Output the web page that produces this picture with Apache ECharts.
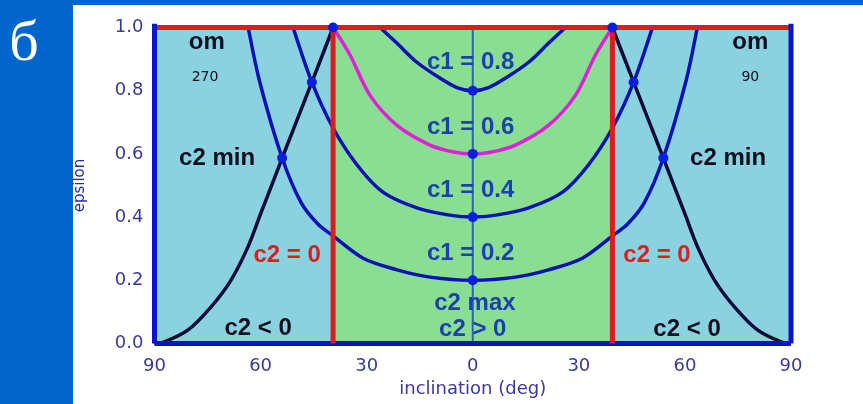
<!DOCTYPE html>
<html>
<head>
<meta charset="utf-8">
<script src="https://cdn.jsdelivr.net/npm/echarts@6/dist/echarts.min.js"></script>
<style>
  html, body { margin: 0; padding: 0; background: #ffffff; }
  #chart { width: 863px; height: 404px; }
</style>
</head>
<body>
<div id="chart"></div>
<script>
// Axis ticks
const xTicks = [-90, -60, -30, 0, 30, 60, 90];
const yTicks = [0, 0.2, 0.4, 0.6, 0.8, 1.0];

// Boundary of the c2 > 0 zone (inclination, deg)
const c2ZeroIncl = [-39.5, 39.5];

// Constant-c1 curves: inclination (deg) and epsilon
const c1_08_incl = [-26.2, -21.4, -15.8, -9.3, -4.5, 0, 4.5, 9.3, 15.8, 21.4, 26.2];
const c1_08_eps  = [1.0, 0.95, 0.89, 0.84, 0.81, 0.80, 0.81, 0.84, 0.89, 0.95, 1.0];

const c1_06_incl = [-39.5, -34.7, -29.1, -21.4, -12.1, -5, 0, 5, 12.1, 21.4, 29.1, 34.7, 39.5];
const c1_06_eps  = [1.0, 0.913, 0.786, 0.69, 0.628, 0.605, 0.60, 0.605, 0.628, 0.69, 0.786, 0.913, 1.0];

const c1_04_incl = [-50.8, -45.5, -39.5, -32.7, -25.4, -15.8, -7, 0, 7, 15.8, 25.4, 32.7, 39.5, 45.5, 50.8];
const c1_04_eps  = [1.0, 0.827, 0.682, 0.565, 0.479, 0.429, 0.407, 0.40, 0.407, 0.429, 0.479, 0.565, 0.682, 0.827, 1.0];

const c1_02_incl = [-63.5, -60.2, -53.9, -48.5, -43.8, -39.8, -31.0, -21.4, -12.1, 0,
                    12.1, 21.4, 31.0, 39.8, 43.8, 48.5, 53.9, 60.2, 63.5];
const c1_02_eps  = [1.0, 0.826, 0.587, 0.445, 0.378, 0.343, 0.27, 0.233, 0.21, 0.20,
                    0.21, 0.233, 0.27, 0.343, 0.378, 0.445, 0.587, 0.826, 1.0];

// Locus of c2 minima (left and right branches)
const c2min_left_incl  = [-90, -87.2, -80.5, -74, -68.4, -63.6, -59.9, -56.3, -53.9, -45.5, -39.5];
const c2min_left_eps   = [0, 0.005, 0.043, 0.116, 0.2, 0.305, 0.413, 0.517, 0.587, 0.827, 1.0];
const c2min_right_incl = [39.5, 45.5, 53.9, 56.3, 59.9, 63.6, 68.4, 74, 80.5, 87.2, 90];
const c2min_right_eps  = [1.0, 0.827, 0.587, 0.517, 0.413, 0.305, 0.2, 0.116, 0.043, 0.005, 0];

// Marked points
const dotIncl = [-39.5, -45.5, -53.9, 39.5, 45.5, 53.9, 0, 0, 0, 0];
const dotEps  = [1.0, 0.827, 0.587, 1.0, 0.827, 0.587, 0.8, 0.6, 0.4, 0.2];

// Annotations: text, inclination, epsilon, style key
const notes = [
  ['om', -75.2, 0.954, 'big'], ['270', -75.7, 0.843, 'small'],
  ['om', 78.5, 0.954, 'big'], ['90', 78.5, 0.843, 'small'],
  ['c2 min', -72.3, 0.587, 'big'], ['c2 min', 72.2, 0.587, 'big'],
  ['c2 = 0', -52.5, 0.28, 'red'], ['c2 = 0', 52.1, 0.28, 'red'],
  ['c2 < 0', -60.7, 0.049, 'big'], ['c2 < 0', 60.6, 0.045, 'big'],
  ['c1 = 0.8', -0.6, 0.891, 'blue'], ['c1 = 0.6', -0.6, 0.685, 'blue'],
  ['c1 = 0.4', -0.6, 0.486, 'blue'], ['c1 = 0.2', -0.6, 0.286, 'blue'],
  ['c2 max', 0.6, 0.128, 'blue'], ['c2 > 0', 0, 0.045, 'blue']
];

const zip = (xs, ys) => xs.map((x, i) => [x, ys[i]]);

const BLUE = '#0a14c8';
const RED = '#d81e1e';
const TICK = '#3a3a9c';
const FONT = '"Liberation Sans", Arial, sans-serif';
const THIN = '"DejaVu Sans", sans-serif';

const plain = { textBorderWidth: 0, textShadowBlur: 0, opacity: 1 };
const noteStyles = {
  big:   Object.assign({ color: '#0e0e1e', fontSize: 24, fontWeight: 'bold', fontFamily: FONT }, plain),
  small: Object.assign({ color: '#0e0e1e', fontSize: 14, fontWeight: 'normal', fontFamily: THIN }, plain),
  red:   Object.assign({ color: '#d8201e', fontSize: 24, fontWeight: 'bold', fontFamily: FONT }, plain),
  blue:  Object.assign({ color: '#1c40b0', fontSize: 24, fontWeight: 'bold', fontFamily: FONT }, plain)
};

function curve(name, xs, ys, color, z) {
  return {
    name, type: 'line', data: zip(xs, ys), smooth: 0.3, symbol: 'none',
    lineStyle: { color, width: 3.5 }, z, clip: false, silent: true
  };
}

function straight(name, pts, color, width, z) {
  return {
    name, type: 'line', data: pts, symbol: 'none', clip: false, silent: true,
    lineStyle: { color, width }, z
  };
}

const chart = echarts.init(document.getElementById('chart'), null, { renderer: 'canvas' });

const series = [
  // green zone (c2 > 0)
  {
    type: 'line', data: [], silent: true, z: 1,
    markArea: {
      silent: true,
      itemStyle: { color: '#8ade92' },
      data: [[{ xAxis: c2ZeroIncl[0], yAxis: 0 }, { xAxis: c2ZeroIncl[1], yAxis: 1 }]]
    }
  },
  // centre line
  straight('axis0', [[0, 0], [0, 1]], '#2a66a8', 2, 2),
  curve('c1=0.8', c1_08_incl, c1_08_eps, '#0a12b4', 4),
  curve('c1=0.4', c1_04_incl, c1_04_eps, '#0a12b4', 4),
  curve('c1=0.2', c1_02_incl, c1_02_eps, '#0a12b4', 4),
  curve('c2min L', c2min_left_incl, c2min_left_eps, '#0c0c3a', 4),
  curve('c2min R', c2min_right_incl, c2min_right_eps, '#0c0c3a', 4),
  curve('c1=0.6', c1_06_incl, c1_06_eps, '#e020d8', 5),
  // c2 = 0 boundaries and the epsilon = 1 limit
  straight('c2=0 L', [[c2ZeroIncl[0], 0], [c2ZeroIncl[0], 1]], RED, 5, 6),
  straight('c2=0 R', [[c2ZeroIncl[1], 0], [c2ZeroIncl[1], 1]], RED, 5, 6),
  straight('eps1', [[-90, 1], [90, 1]], RED, 5, 6),
  // frame
  straight('frameB', [[-90, 0], [90, 0]], BLUE, 5, 5),
  straight('frameL', [[-90, 0], [-90, 1.012]], BLUE, 5, 7),
  straight('frameR', [[90, 0], [90, 1.012]], BLUE, 5, 7),
  {
    name: 'dots', type: 'scatter', data: zip(dotIncl, dotEps), symbolSize: 10,
    itemStyle: { color: '#0a1ee0', opacity: 1 }, z: 8, silent: true
  },
  {
    name: 'notes', type: 'scatter', symbolSize: 0, z: 9, silent: true,
    itemStyle: { opacity: 1 },
    data: notes.map(n => ({
      value: [n[1], n[2]],
      label: Object.assign({ show: true, position: 'inside', formatter: n[0] }, noteStyles[n[3]])
    }))
  }
];

chart.setOption({
  animation: false,
  backgroundColor: '#ffffff',
  grid: {
    left: 154.5, right: 72, top: 27.5, bottom: 60.5,
    show: true, backgroundColor: '#8ad2e0', borderWidth: 0
  },
  xAxis: {
    type: 'value', min: -90, max: 90, interval: 30,
    name: 'inclination (deg)', nameLocation: 'middle', nameGap: 34,
    nameTextStyle: { color: TICK, fontSize: 18, fontFamily: THIN },
    axisLine: { show: false }, axisTick: { show: false }, splitLine: { show: false },
    axisLabel: {
      color: TICK, fontSize: 18, margin: 14, fontFamily: THIN,
      formatter: v => xTicks.includes(v) ? String(Math.abs(v)) : ''
    }
  },
  yAxis: {
    type: 'value', min: 0, max: 1, interval: 0.2,
    name: 'epsilon', nameLocation: 'middle', nameGap: 67, nameRotate: 90,
    nameTextStyle: { color: '#2a2aa8', fontSize: 15, fontFamily: THIN },
    axisLine: { show: false }, axisTick: { show: false }, splitLine: { show: false },
    axisLabel: {
      color: TICK, fontSize: 18, margin: 11, fontFamily: THIN,
      formatter: v => yTicks.some(t => Math.abs(t - v) < 1e-9) ? v.toFixed(1) : ''
    }
  },
  graphic: [
    { type: 'rect', shape: { x: 0, y: 0, width: 73, height: 404 }, style: { fill: '#0066cc' }, z: 0 },
    { type: 'rect', shape: { x: 0, y: 0, width: 863, height: 5 }, style: { fill: '#0066cc' }, z: 0 },
    {
      type: 'text', x: 24, y: 45, z: 1,
      style: {
        text: 'б', fill: '#ffffff', font: '58px "Liberation Serif", "DejaVu Serif", serif',
        textAlign: 'center', textVerticalAlign: 'middle'
      }
    }
  ],
  series
});
</script>
</body>
</html>
